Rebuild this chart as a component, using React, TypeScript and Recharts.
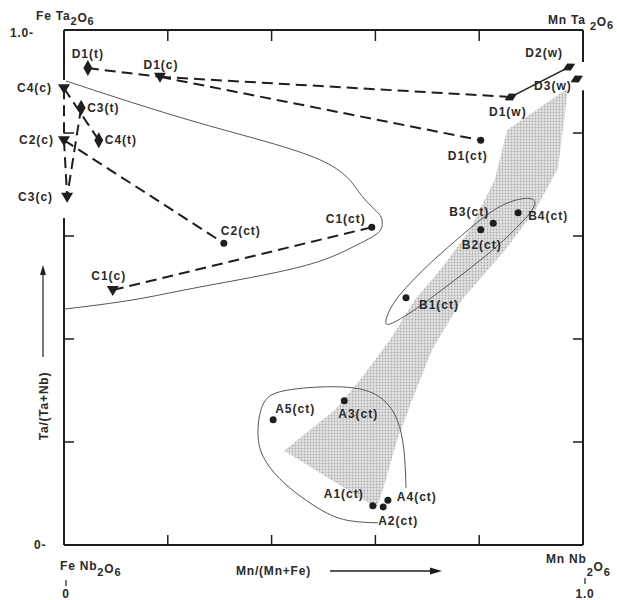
import React from 'react';
import { ComposedChart, XAxis, YAxis, Scatter, ReferenceLine } from 'recharts';

type P = { name: string; x: number; y: number };
type XY = { x: number; y: number };

// ---- data (x = Mn/(Mn+Fe), y = Ta/(Ta+Nb)) ----
const corePoints: P[] = [
  { name: 'D1(c)', x: 0.185, y: 0.909 },
  { name: 'C4(c)', x: 0.0, y: 0.887 },
  { name: 'C2(c)', x: 0.0, y: 0.786 },
  { name: 'C3(c)', x: 0.006, y: 0.676 },
  { name: 'C1(c)', x: 0.094, y: 0.495 },
];
const tPoints: P[] = [
  { name: 'D1(t)', x: 0.046, y: 0.926 },
  { name: 'C3(t)', x: 0.033, y: 0.849 },
  { name: 'C4(t)', x: 0.067, y: 0.786 },
];
const wPoints: P[] = [
  { name: 'D1(w)', x: 0.861, y: 0.87 },
  { name: 'D2(w)', x: 0.973, y: 0.928 },
  { name: 'D3(w)', x: 0.988, y: 0.905 },
];
const ctPoints: P[] = [
  { name: 'C2(ct)', x: 0.308, y: 0.586 },
  { name: 'C1(ct)', x: 0.593, y: 0.617 },
  { name: 'D1(ct)', x: 0.803, y: 0.786 },
  { name: 'B1(ct)', x: 0.659, y: 0.48 },
  { name: 'B2(ct)', x: 0.803, y: 0.612 },
  { name: 'B3(ct)', x: 0.827, y: 0.625 },
  { name: 'B4(ct)', x: 0.875, y: 0.645 },
  { name: 'A5(ct)', x: 0.403, y: 0.243 },
  { name: 'A3(ct)', x: 0.54, y: 0.28 },
  { name: 'A1(ct)', x: 0.595, y: 0.076 },
  { name: 'A2(ct)', x: 0.615, y: 0.074 },
  { name: 'A4(ct)', x: 0.624, y: 0.087 },
];

const dashedLinks: [string, string][] = [
  ['D1(t)', 'D1(c)'],
  ['D1(c)', 'D1(w)'],
  ['D1(c)', 'D1(ct)'],
  ['C4(c)', 'C4(t)'],
  ['C4(c)', 'C2(c)'],
  ['C2(c)', 'C3(c)'],
  ['C3(t)', 'C3(c)'],
  ['C2(c)', 'C2(ct)'],
  ['C1(c)', 'C1(ct)'],
];
const solidLinks: [string, string][] = [['D1(w)', 'D2(w)']];

const envelopeC: XY[] = [
  { x: 0.004, y: 0.901 }, { x: 0.262, y: 0.819 }, { x: 0.493, y: 0.748 }, { x: 0.57, y: 0.683 },
  { x: 0.605, y: 0.645 }, { x: 0.613, y: 0.627 }, { x: 0.605, y: 0.606 }, { x: 0.557, y: 0.579 },
  { x: 0.455, y: 0.54 }, { x: 0.262, y: 0.501 }, { x: 0.133, y: 0.476 }, { x: 0.0, y: 0.458 },
];
const envelopeB: XY[] = [
  { x: 0.615, y: 0.427 }, { x: 0.632, y: 0.47 }, { x: 0.667, y: 0.509 }, { x: 0.715, y: 0.557 },
  { x: 0.763, y: 0.598 }, { x: 0.83, y: 0.656 }, { x: 0.879, y: 0.674 }, { x: 0.909, y: 0.674 },
  { x: 0.909, y: 0.654 }, { x: 0.859, y: 0.602 }, { x: 0.811, y: 0.559 }, { x: 0.715, y: 0.485 },
  { x: 0.667, y: 0.45 }, { x: 0.628, y: 0.427 },
];
const envelopeA: XY[] = [
  { x: 0.659, y: 0.111 }, { x: 0.655, y: 0.184 }, { x: 0.642, y: 0.243 }, { x: 0.615, y: 0.282 },
  { x: 0.57, y: 0.303 }, { x: 0.499, y: 0.307 }, { x: 0.422, y: 0.299 }, { x: 0.383, y: 0.272 },
  { x: 0.374, y: 0.21 }, { x: 0.391, y: 0.159 }, { x: 0.435, y: 0.111 }, { x: 0.499, y: 0.066 },
  { x: 0.551, y: 0.047 }, { x: 0.605, y: 0.043 },
];
const trendArrow: XY[] = [
  { x: 0.971, y: 0.887 }, { x: 0.952, y: 0.732 }, { x: 0.908, y: 0.65 }, { x: 0.85, y: 0.573 },
  { x: 0.767, y: 0.476 }, { x: 0.709, y: 0.379 }, { x: 0.671, y: 0.282 }, { x: 0.642, y: 0.204 },
  { x: 0.62, y: 0.126 }, { x: 0.603, y: 0.072 }, { x: 0.424, y: 0.183 }, { x: 0.522, y: 0.262 },
  { x: 0.57, y: 0.32 }, { x: 0.628, y: 0.398 }, { x: 0.676, y: 0.476 }, { x: 0.728, y: 0.538 },
  { x: 0.782, y: 0.612 }, { x: 0.83, y: 0.709 }, { x: 0.854, y: 0.806 },
];

const innerTicks = [0.2, 0.4, 0.6, 0.8];
const leftAxisSpans: [number, number][] = [[0, 0.635], [0.903, 1]];
const rightAxisSpans: [number, number][] = [[0, 0.883], [0.938, 1]];

// label placement: [dx, dy, anchor]
const labelPlace: Record<string, [number, number, 'start' | 'middle' | 'end']> = {
  'D1(t)': [0, -10, 'middle'],
  'D1(c)': [1, -8, 'middle'],
  'C4(c)': [-12, 4, 'end'],
  'C3(t)': [6, 4, 'start'],
  'C4(t)': [6, 4, 'start'],
  'C2(c)': [-10, 4, 'end'],
  'C3(c)': [-14, 4, 'end'],
  'C2(ct)': [-3, -8, 'start'],
  'C1(c)': [-4, -10, 'middle'],
  'C1(ct)': [-6, -4, 'end'],
  'D1(ct)': [-13, 20, 'middle'],
  'D1(w)': [-3, 19, 'middle'],
  'D2(w)': [-6, -10, 'end'],
  'D3(w)': [-5, 11, 'end'],
  'B1(ct)': [13, 11, 'start'],
  'B2(ct)': [1, 19, 'middle'],
  'B3(ct)': [-4, -7, 'end'],
  'B4(ct)': [10, 7, 'start'],
  'A5(ct)': [2, -7, 'start'],
  'A3(ct)': [-6, 17, 'start'],
  'A1(ct)': [-9, -8, 'end'],
  'A2(ct)': [-5, 18, 'start'],
  'A4(ct)': [9, 1, 'start'],
};

const INK = '#1e1e1e';
const TXT = '#2a2a2a';
const FONT = "'Liberation Sans', Arial, sans-serif";
const labelStyle = { fontFamily: FONT, fontSize: 12, fontWeight: 700, fill: TXT, letterSpacing: 1 } as const;

const allPoints: P[] = [...corePoints, ...tPoints, ...wPoints, ...ctPoints];
const byName = (n: string) => allPoints.find((p) => p.name === n)!;

const Label = ({ cx, cy, name }: { cx: number; cy: number; name: string }) => {
  const pl = labelPlace[name] || [6, 4, 'start'];
  return (
    <text x={cx + pl[0]} y={cy + pl[1]} textAnchor={pl[2]} style={labelStyle}>
      {name}
    </text>
  );
};

const TriDown = (p: any) => (
  <g>
    <polygon points={`${p.cx - 6},${p.cy - 4} ${p.cx + 6},${p.cy - 4} ${p.cx},${p.cy + 6}`} fill={INK} />
    <Label cx={p.cx} cy={p.cy} name={p.payload.name} />
  </g>
);
const TallDiamond = (p: any) => (
  <g>
    <polygon points={`${p.cx},${p.cy - 8} ${p.cx + 4.5},${p.cy} ${p.cx},${p.cy + 8} ${p.cx - 4.5},${p.cy}`} fill={INK} />
    <Label cx={p.cx} cy={p.cy} name={p.payload.name} />
  </g>
);
const WideDiamond = (p: any) => (
  <g>
    <polygon
      points={`${p.cx - 7},${p.cy} ${p.cx},${p.cy - 4} ${p.cx + 7},${p.cy} ${p.cx},${p.cy + 4}`}
      fill={INK}
      transform={`rotate(-28 ${p.cx} ${p.cy})`}
    />
    <Label cx={p.cx} cy={p.cy} name={p.payload.name} />
  </g>
);
const Dot = (p: any) => (
  <g>
    <circle cx={p.cx} cy={p.cy} r={3.5} fill={INK} />
    <Label cx={p.cx} cy={p.cy} name={p.payload.name} />
  </g>
);
const Nothing = () => <g />;

const ArrowFill = (p: any) => {
  const pts: XY[] = p.points || [];
  const d = pts.map((q, i) => `${i ? 'L' : 'M'}${q.x},${q.y}`).join(' ') + ' Z';
  return <path d={d} fill="url(#stipple)" stroke="none" />;
};

const Sub = ({ children, dy }: { children: React.ReactNode; dy: number }) => (
  <tspan dy={dy} fontSize={11}>
    {children}
  </tspan>
);

export default function App() {
  const txt = { fontFamily: FONT, fontSize: 12, fontWeight: 700, fill: TXT, letterSpacing: 0.8 } as const;
  return (
    <div style={{ position: 'absolute', left: 0, top: 0, background: '#fff' }}>
      <ComposedChart width={617} height={600} margin={{ top: 30, right: 34, bottom: 55, left: 64 }}>
        <defs>
          <pattern id="stipple" width="3" height="3" patternUnits="userSpaceOnUse">
            <rect width="3" height="3" fill="#e4e4e4" />
            <circle cx="1.5" cy="1.5" r="0.9" fill="#acacac" />
          </pattern>
        </defs>
        <XAxis
          type="number"
          dataKey="x"
          domain={[0, 1]}
          ticks={innerTicks}
          interval={0}
          orientation="bottom"
          mirror
          tickSize={10}
          tickFormatter={() => ''}
          axisLine={{ stroke: INK, strokeWidth: 2 }}
          tickLine={{ stroke: INK, strokeWidth: 1.5 }}
        />
        <XAxis
          xAxisId="top"
          type="number"
          dataKey="x"
          domain={[0, 1]}
          ticks={innerTicks}
          interval={0}
          orientation="top"
          mirror
          tickSize={11}
          tickFormatter={() => ''}
          axisLine={{ stroke: INK, strokeWidth: 2 }}
          tickLine={{ stroke: INK, strokeWidth: 1.5 }}
        />
        <YAxis
          type="number"
          dataKey="y"
          domain={[0, 1]}
          ticks={innerTicks}
          interval={0}
          orientation="left"
          mirror
          tickSize={10}
          tickFormatter={() => ''}
          axisLine={false}
          tickLine={{ stroke: INK, strokeWidth: 1.5 }}
        />
        <YAxis
          yAxisId="right"
          type="number"
          dataKey="y"
          domain={[0, 1]}
          ticks={innerTicks}
          interval={0}
          orientation="right"
          mirror
          tickSize={10}
          tickFormatter={() => ''}
          axisLine={false}
          tickLine={{ stroke: INK, strokeWidth: 1.5 }}
        />
        {leftAxisSpans.map((s, i) => (
          <ReferenceLine
            key={'la' + i}
            segment={[{ x: 0, y: s[0] }, { x: 0, y: s[1] }]}
            stroke={INK}
            strokeWidth={2}
            ifOverflow="visible"
          />
        ))}
        {rightAxisSpans.map((s, i) => (
          <ReferenceLine
            key={'ra' + i}
            segment={[{ x: 1, y: s[0] }, { x: 1, y: s[1] }]}
            stroke={INK}
            strokeWidth={2}
            ifOverflow="visible"
          />
        ))}

        <Scatter
          data={trendArrow}
          xAxisId="top"
          yAxisId="right"
          shape={Nothing}
          line={ArrowFill}
          lineType="joint"
          isAnimationActive={false}
        />
        <Scatter
          data={envelopeC}
          shape={Nothing}
          line={{ stroke: '#555', strokeWidth: 1 }}
          lineJointType="natural"
          isAnimationActive={false}
        />
        <Scatter
          data={envelopeB}
          shape={Nothing}
          line={{ stroke: '#555', strokeWidth: 1 }}
          lineJointType="basisClosed"
          isAnimationActive={false}
        />
        <Scatter
          data={envelopeA}
          shape={Nothing}
          line={{ stroke: '#555', strokeWidth: 1 }}
          lineJointType="natural"
          isAnimationActive={false}
        />
        {dashedLinks.map(([a, b], i) => (
          <Scatter
            key={'dl' + i}
            data={[byName(a), byName(b)]}
            shape={Nothing}
            line={{ stroke: INK, strokeWidth: 2, strokeDasharray: '11 6' }}
            isAnimationActive={false}
          />
        ))}
        {solidLinks.map(([a, b], i) => (
          <Scatter
            key={'sl' + i}
            data={[byName(a), byName(b)]}
            shape={Nothing}
            line={{ stroke: INK, strokeWidth: 1.5 }}
            isAnimationActive={false}
          />
        ))}
        <Scatter data={corePoints} shape={TriDown} isAnimationActive={false} />
        <Scatter data={tPoints} shape={TallDiamond} isAnimationActive={false} />
        <Scatter data={wPoints} shape={WideDiamond} isAnimationActive={false} />
        <Scatter data={ctPoints} shape={Dot} isAnimationActive={false} />

        <g>
          <text x={36} y={20} style={txt}>
            Fe Ta<Sub dy={5}>2</Sub>
            <tspan dy={-3}>O</tspan>
            <Sub dy={3}>6</Sub>
          </text>
          <text x={548} y={24} style={txt}>
            Mn Ta <Sub dy={6}>2</Sub>
            <tspan dy={-4}>O</tspan>
            <Sub dy={3}>6</Sub>
          </text>
          <text x={10} y={37} style={txt}>1.0-</text>
          <text x={34} y={549} style={txt}>0-</text>
          <text x={60} y={570} style={txt}>
            Fe Nb<Sub dy={6}>2</Sub>
            <tspan dy={-3}>O</tspan>
            <Sub dy={3}>6</Sub>
          </text>
          <text x={546} y={563} style={txt}>
            Mn Nb<Sub dy={13}>2</Sub>
            <tspan dy={-5}>O</tspan>
            <Sub dy={5}>6</Sub>
          </text>
          <text x={236} y={575} style={txt}>Mn/(Mn+Fe)</text>
          <line x1={330} y1={571} x2={432} y2={571} stroke={INK} strokeWidth={1.5} />
          <polygon points="442,571 430,567.5 430,574.5" fill={INK} />
          <line x1={66} y1={580} x2={66} y2={586} stroke={INK} strokeWidth={1.2} />
          <text x={66} y={598} textAnchor="middle" style={txt}>0</text>
          <line x1={585} y1={578} x2={585} y2={584} stroke={INK} strokeWidth={1.2} />
          <text x={585} y={598} textAnchor="middle" style={txt}>1.0</text>
          <text x={48} y={406} textAnchor="middle" transform="rotate(-90 48 406)" style={txt}>
            Ta/(Ta+Nb)
          </text>
          <line x1={43} y1={357} x2={43} y2={274} stroke={INK} strokeWidth={1.2} />
          <polygon points="43,265 40,275 46,275" fill={INK} />
        </g>
      </ComposedChart>
    </div>
  );
}
